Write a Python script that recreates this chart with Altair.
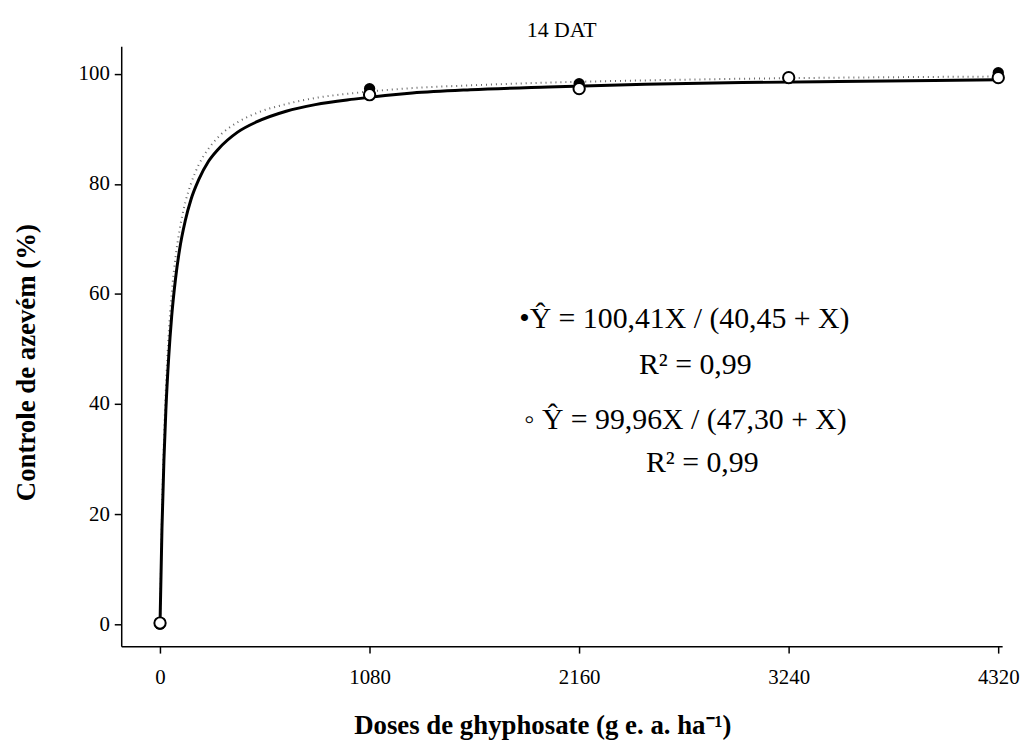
import altair as alt
import pandas as pd

# Observed points
doses = [0, 1080, 2160, 3240, 4320]
filled_pts = [0.0, 97.3, 98.2, 99.2, 100.2]
open_pts = [0.2, 96.2, 97.3, 99.3, 99.3]

# Fitted curves
curve_x = [0, 10, 20, 30, 45, 60, 80, 100, 130, 160, 200, 250, 300, 400, 500,
           650, 800, 1000, 1300, 1600, 2000, 2500, 3000, 3500, 4320]
curve_filled = [0, 19.9, 33.2, 42.8, 52.9, 60.0, 66.7, 71.5, 76.6, 80.1, 83.5, 86.4,
                88.5, 91.2, 92.9, 94.5, 95.6, 96.5, 97.4, 97.9, 98.4, 98.8, 99.1, 99.3, 99.5]
curve_open = [0, 17.4, 29.7, 38.8, 48.7, 55.9, 62.8, 67.9, 73.3, 77.2, 80.8, 84.1,
              86.3, 89.4, 91.3, 93.2, 94.4, 95.4, 96.5, 97.1, 97.6, 98.1, 98.4, 98.6, 98.9]

x_ticks = [0, 1080, 2160, 3240, 4320]
y_ticks = [0, 20, 40, 60, 80, 100]

eq_lines = ["\u2022\u0176 = 100,41X / (40,45 + X)", "R\u00b2 = 0,99",
            "\u25e6 \u0176 = 99,96X / (47,30 + X)", "R\u00b2 = 0,99"]

FONT = "Liberation Serif"

pts = pd.DataFrame({"x": doses, "filled": filled_pts, "open": open_pts})
cur = pd.DataFrame({"x": curve_x, "cf": curve_filled, "co": curve_open})

xscale = alt.Scale(domain=[-200, 4340], nice=False, zero=False)
yscale = alt.Scale(domain=[-4, 105], nice=False, zero=False)

xaxis = alt.Axis(values=x_ticks, format="d", title="Doses de ghyphosate (g e. a. ha\u207b\u00b9)",
                 titleFontSize=27, titleFontWeight="bold", titleFont=FONT,
                 titleX=424, titleY=88, titleBaseline="alphabetic")
yaxis = alt.Axis(values=y_ticks, format="d", title="Controle de azev\u00e9m (%)",
                 titleFontSize=27, titleFontWeight="bold", titleFont=FONT,
                 titleX=-95, titleY=318, titleBaseline="middle", titleAngle=270)

base = alt.Chart(cur)
dotted = base.mark_line(color="#666666", strokeWidth=2, strokeDash=[1, 4],
                        interpolate="monotone").encode(
    x=alt.X("x:Q", scale=xscale, axis=xaxis),
    y=alt.Y("cf:Q", scale=yscale, axis=yaxis))
solid = base.mark_line(color="black", strokeWidth=3, interpolate="monotone").encode(
    x=alt.X("x:Q", scale=xscale), y=alt.Y("co:Q", scale=yscale))

filled = alt.Chart(pts).mark_point(filled=True, color="black", size=130, opacity=1).encode(
    x=alt.X("x:Q", scale=xscale), y=alt.Y("filled:Q", scale=yscale))
opened = alt.Chart(pts).mark_point(filled=False, fill="white", fillOpacity=1, stroke="black",
                                   strokeWidth=2, size=130, opacity=1).encode(
    x=alt.X("x:Q", scale=xscale), y=alt.Y("open:Q", scale=yscale))

pos = [(567, 284), (578, 330), (568, 385), (585, 429)]
texts = []
for t, (px, py) in zip(eq_lines, pos):
    texts.append(alt.Chart(pd.DataFrame({"t": [t]})).mark_text(
        font=FONT, fontSize=30, color="black", align="center", baseline="alphabetic").encode(
        text="t:N", x=alt.value(px), y=alt.value(py)))

chart = alt.layer(dotted, solid, filled, opened, *texts).properties(
    width=887, height=604,
    title=alt.TitleParams("14 DAT", font=FONT, fontSize=22, fontWeight="normal",
                          color="black", anchor="middle", offset=4),
    autosize=alt.AutoSizeParams(type="none"),
    padding={"left": 114, "top": 36, "right": 22, "bottom": 98},
).configure_view(stroke=None).configure_axis(
    grid=False, domainColor="black", domainWidth=1.5, tickColor="black", tickWidth=1.5,
    tickSize=7, labelFont=FONT, labelFontSize=21, labelColor="black", titleColor="black",
).configure_axisX(labelPadding=14).configure_axisY(labelPadding=5)

chart.save("out.html", embed_options={"renderer": "svg", "actions": False})
